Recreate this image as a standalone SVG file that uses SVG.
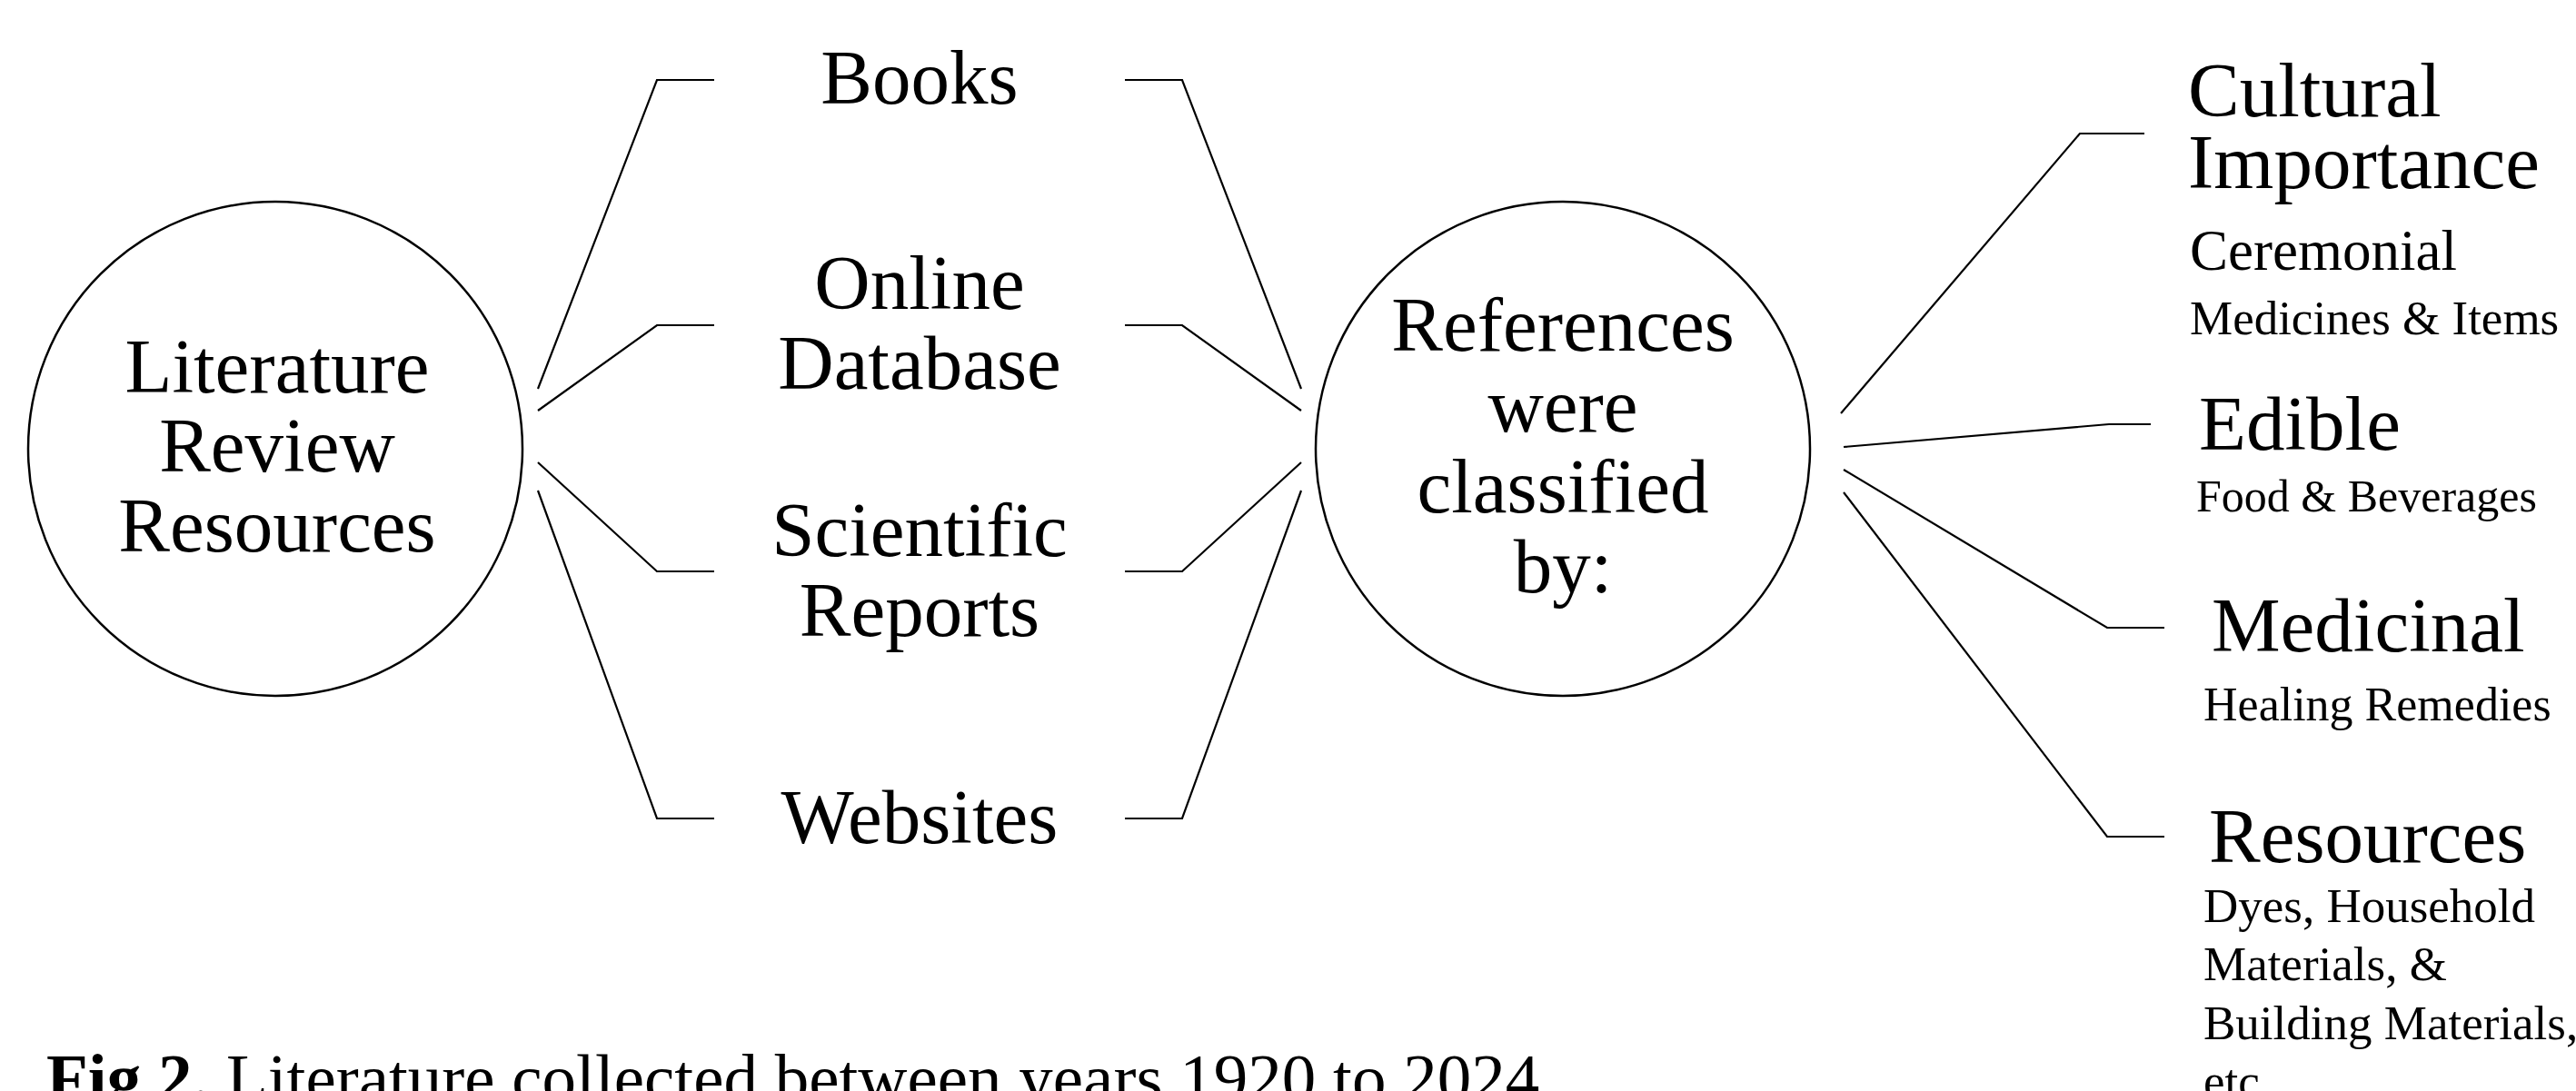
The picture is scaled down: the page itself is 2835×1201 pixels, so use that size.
<svg xmlns="http://www.w3.org/2000/svg" width="2835" height="1201" viewBox="0 0 2835 1201">
<style>
.bg{fill:#ffffff}
.node circle{fill:none;stroke:#000;stroke-width:2.5}
.conn polyline{fill:none;stroke:#000;stroke-width:2.2;stroke-linejoin:miter}
text{font-family:"Liberation Serif","Times New Roman",serif;fill:#000}
.big{font-size:85px}
.mid{text-anchor:middle}
.sub{font-size:53px}
.cap{font-size:75px}
.b{font-weight:bold}
</style>
<rect class="bg" x="0" y="0" width="2835" height="1201"/>
<g id="connectors" class="conn">
<polyline points="592,428 723,88 786,88"/>
<polyline points="592,452 723,358 786,358"/>
<polyline points="592,509 723,629 786,629"/>
<polyline points="592,540 723,901 786,901"/>
<polyline points="1238,88 1301,88 1432,428"/>
<polyline points="1238,358 1301,358 1432,452"/>
<polyline points="1238,629 1301,629 1432,509"/>
<polyline points="1238,901 1301,901 1432,540"/>
<polyline points="2026,455 2289,147 2360,147"/>
<polyline points="2029,492 2321,467 2367,467"/>
<polyline points="2029,517 2319,691 2382,691"/>
<polyline points="2029,542 2319,921 2382,921"/>
</g>
<g id="lit-review" class="node">
<circle cx="303" cy="494" r="272"/>
<text class="big mid" x="305" y="432">Literature</text>
<text class="big mid" x="305" y="519">Review</text>
<text class="big mid" x="305" y="607">Resources</text>
</g>
<g id="books" class="node">
<text class="big mid" x="1012" y="114">Books</text>
</g>
<g id="online-db" class="node">
<text class="big mid" x="1012" y="340">Online</text>
<text class="big mid" x="1012" y="428">Database</text>
</g>
<g id="sci-reports" class="node">
<text class="big mid" x="1012" y="612">Scientific</text>
<text class="big mid" x="1012" y="700">Reports</text>
</g>
<g id="websites" class="node">
<text class="big mid" x="1012" y="928">Websites</text>
</g>
<g id="classified" class="node">
<circle cx="1720" cy="494" r="272"/>
<text class="big mid" x="1720" y="386">References</text>
<text class="big mid" x="1720" y="475">were</text>
<text class="big mid" x="1720" y="564">classified</text>
<text class="big mid" x="1720" y="652">by:</text>
</g>
<g id="cultural" class="node">
<text class="big" x="2408" y="128">Cultural</text>
<text class="big" x="2408" y="207">Importance</text>
<text x="2410" y="297" font-size="63">Ceremonial</text>
<text class="sub" x="2410" y="368">Medicines &amp; Items</text>
</g>
<g id="edible" class="node">
<text class="big" x="2420" y="495">Edible</text>
<text x="2417" y="563" font-size="50">Food &amp; Beverages</text>
</g>
<g id="medicinal" class="node">
<text class="big" x="2434" y="717">Medicinal</text>
<text x="2425" y="793" font-size="52">Healing Remedies</text>
</g>
<g id="resources" class="node">
<text class="big" x="2431" y="949">Resources</text>
<text class="sub" x="2425" y="1015">Dyes, Household</text>
<text class="sub" x="2425" y="1079">Materials, &amp;</text>
<text class="sub" x="2425" y="1144">Building Materials,</text>
<text class="sub" x="2425" y="1208">etc.</text>
</g>
<g id="caption">
<text class="cap" x="51" y="1212"><tspan class="b">Fig 2.</tspan> Literature collected between years 1920 to 2024</text>
</g>
</svg>
